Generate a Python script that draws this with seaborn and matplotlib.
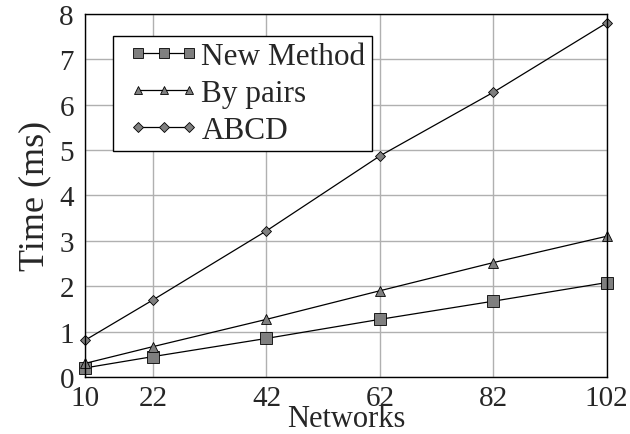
import matplotlib
matplotlib.use("Agg")
import matplotlib.pyplot as plt
from matplotlib.legend_handler import HandlerLine2D
import seaborn as sns
import pandas as pd

networks = [10, 22, 42, 62, 82, 102]
new_method = [0.20, 0.45, 0.85, 1.27, 1.67, 2.08]
by_pairs = [0.30, 0.67, 1.27, 1.90, 2.52, 3.10]
abcd = [0.81, 1.70, 3.22, 4.87, 6.27, 7.80]
series_names = ["New Method", "By pairs", "ABCD"]
y_ticks = list(range(0, 9))

rows = []
for name, vals in zip(series_names, [new_method, by_pairs, abcd]):
    for n, v in zip(networks, vals):
        rows.append({"Networks": n, "Time": v, "Method": name})
df = pd.DataFrame(rows)

sns.set_style("white")
plt.rcParams["font.family"] = ["Liberation Serif", "DejaVu Serif"]

fig = plt.figure(figsize=(6.3, 4.35), dpi=100)
ax = fig.add_axes([0.135, 0.131, 0.828, 0.835])

markers = {"New Method": "s", "By pairs": "^", "ABCD": "D"}
sns.lineplot(
    data=df, x="Networks", y="Time", hue="Method", style="Method",
    hue_order=series_names, style_order=series_names,
    palette=["black"] * 3, markers=markers,
    dashes=False, ax=ax, linewidth=0.9, legend=False,
)
marker_sizes = {"New Method": 8, "By pairs": 6.5, "ABCD": 5.5}
handles = []
for line, name in zip(ax.get_lines(), series_names):
    line.set_markerfacecolor("#7f7f7f")
    line.set_markeredgecolor("black")
    line.set_markeredgewidth(0.6)
    line.set_markersize(marker_sizes[name])
    line.set_label(name)
    line.set_clip_on(False)
    handles.append(line)

ax.set_xlim(10, 102)
ax.set_ylim(0, 8)
ax.set_xticks(networks)
ax.set_yticks(y_ticks)
ax.grid(True, color="#b0b0b0", linewidth=1.0)
ax.set_axisbelow(True)
for s in ax.spines.values():
    s.set_color("black")
    s.set_linewidth(1.0)
ax.tick_params(axis="both", direction="in", length=4, width=1, color="black",
               labelsize=21)
ax.tick_params(axis="y", pad=8)
ax.tick_params(axis="x", pad=6)
ax.set_xlabel("Networks", fontsize=22, labelpad=-5.5)
ax.set_ylabel("Time (ms)", fontsize=26, labelpad=6)

# legend handles: line joins three markers, line starts at the first marker
handler = HandlerLine2D(marker_pad=0.58)
leg = ax.legend(handles=handles, labels=series_names, loc="upper left",
                bbox_to_anchor=(0.054, 0.94), fontsize=22.5, numpoints=3,
                handlelength=2.82, handletextpad=-0.2, labelspacing=0.26,
                borderpad=0.2, fancybox=False, framealpha=1, edgecolor="black",
                borderaxespad=0, handler_map={h: handler for h in handles})
leg.get_frame().set_linewidth(1.0)
legend_marker_sizes = {"New Method": 6.5, "By pairs": 5.5, "ABCD": 5}
for lh, name in zip(leg.legend_handles, series_names):
    lh.set_markersize(legend_marker_sizes[name])

fig.savefig("out.png", dpi=100)
